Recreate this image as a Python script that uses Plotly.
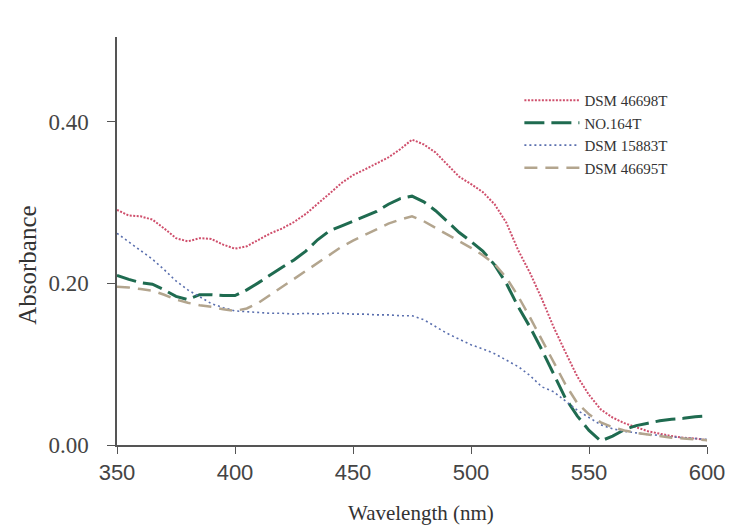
import plotly.graph_objects as go

wavelength = [350, 355, 360, 365, 370, 375, 380, 385, 390, 395, 400, 405, 410, 415, 420, 425,
              430, 435, 440, 445, 450, 455, 460, 465, 470, 475, 480, 485, 490, 495, 500, 505,
              510, 515, 520, 525, 530, 535, 540, 545, 550, 555, 560, 565, 570, 575, 580, 585,
              590, 595, 600]

dsm_46698t = [0.291, 0.284, 0.283, 0.279, 0.268, 0.256, 0.252, 0.256, 0.255, 0.248, 0.243, 0.246,
              0.254, 0.262, 0.268, 0.276, 0.286, 0.298, 0.311, 0.324, 0.334, 0.341, 0.348, 0.356,
              0.366, 0.378, 0.372, 0.362, 0.347, 0.332, 0.323, 0.313, 0.298, 0.275, 0.241, 0.213,
              0.181, 0.146, 0.115, 0.085, 0.062, 0.044, 0.034, 0.027, 0.022, 0.017, 0.014, 0.011,
              0.009, 0.008, 0.006]

no_164t = [0.210, 0.205, 0.201, 0.199, 0.192, 0.184, 0.180, 0.186, 0.186, 0.185, 0.185, 0.192,
           0.201, 0.211, 0.220, 0.229, 0.240, 0.254, 0.265, 0.271, 0.277, 0.283, 0.289, 0.298,
           0.305, 0.308, 0.301, 0.290, 0.276, 0.263, 0.252, 0.240, 0.223, 0.200, 0.171, 0.146,
           0.118, 0.088, 0.058, 0.036, 0.018, 0.005, 0.011, 0.019, 0.024, 0.027, 0.030, 0.032,
           0.033, 0.035, 0.036]

dsm_15883t = [0.262, 0.251, 0.241, 0.230, 0.217, 0.203, 0.192, 0.183, 0.175, 0.170, 0.166, 0.165,
              0.164, 0.163, 0.163, 0.162, 0.163, 0.162, 0.163, 0.163, 0.162, 0.162, 0.161, 0.161,
              0.160, 0.160, 0.155, 0.146, 0.138, 0.131, 0.124, 0.119, 0.113, 0.105, 0.097, 0.086,
              0.072, 0.066, 0.054, 0.043, 0.034, 0.025, 0.020, 0.017, 0.015, 0.013, 0.012, 0.010,
              0.009, 0.008, 0.007]

dsm_46695t = [0.196, 0.195, 0.193, 0.191, 0.186, 0.180, 0.176, 0.173, 0.171, 0.168, 0.166, 0.169,
              0.176, 0.186, 0.196, 0.206, 0.216, 0.226, 0.236, 0.245, 0.253, 0.260, 0.268, 0.274,
              0.279, 0.283, 0.277, 0.269, 0.261, 0.253, 0.244, 0.235, 0.224, 0.207, 0.184, 0.158,
              0.130, 0.102, 0.075, 0.052, 0.038, 0.028, 0.022, 0.018, 0.015, 0.013, 0.011, 0.009,
              0.008, 0.007, 0.006]

series_names = ["DSM 46698T", "NO.164T", "DSM 15883T", "DSM 46695T"]
x_ticks = [350, 400, 450, 500, 550, 600]
y_ticks = [0.0, 0.2, 0.4]

SERIF = "Liberation Serif, Times New Roman, serif"
SANS = "Liberation Sans, Arial, sans-serif"

fig = go.Figure()
fig.add_trace(go.Scatter(x=wavelength, y=dsm_46698t, name=series_names[0], mode="lines",
                         line=dict(color="#cf4f6c", width=2, dash="2px,1.5px")))
fig.add_trace(go.Scatter(x=wavelength, y=no_164t, name=series_names[1], mode="lines",
                         line=dict(color="#1f6b50", width=3, dash="20px,7px")))
fig.add_trace(go.Scatter(x=wavelength, y=dsm_15883t, name=series_names[2], mode="lines",
                         line=dict(color="#5a6fae", width=1.6, dash="2px,3px")))
fig.add_trace(go.Scatter(x=wavelength, y=dsm_46695t, name=series_names[3], mode="lines",
                         line=dict(color="#b3a58e", width=2.5, dash="13px,8px")))

# page body has an 8px default margin, so the figure is sized/positioned to compensate
fig.update_layout(
    width=729, height=519,
    margin=dict(l=109, r=23, t=29, b=82),
    paper_bgcolor="white", plot_bgcolor="white",
    showlegend=True,
    legend=dict(x=0.682, y=0.885, xanchor="left", yanchor="top",
                font=dict(family=SERIF, size=15, color="#333"),
                bgcolor="rgba(0,0,0,0)", itemwidth=55, tracegroupgap=0),
    xaxis=dict(range=[350, 600], tickvals=x_ticks, ticks="outside", ticklen=7,
               tickcolor="#555", showline=True, linecolor="#555", linewidth=1.5,
               showgrid=False, zeroline=False,
               tickfont=dict(family=SANS, size=22, color="#444")),
    yaxis=dict(range=[0, 0.505], tickvals=y_ticks, tickformat=".2f", ticks="outside",
               ticklen=8, tickcolor="#555", showline=True, linecolor="#555", linewidth=1.5,
               showgrid=False, zeroline=False, ticklabelstandoff=14,
               tickfont=dict(family=SERIF, size=23, color="#444")),
    annotations=[
        dict(text="Wavelength (nm)", xref="paper", yref="paper", x=0.516, y=-0.167,
             xanchor="center", yanchor="middle", showarrow=False,
             font=dict(family=SERIF, size=21, color="#333")),
        dict(text="Absorbance", xref="paper", yref="paper", x=-0.153, y=0.441,
             xanchor="center", yanchor="middle", showarrow=False, textangle=-90,
             font=dict(family=SERIF, size=25, color="#333")),
    ],
)

fig.write_html("out.html")
